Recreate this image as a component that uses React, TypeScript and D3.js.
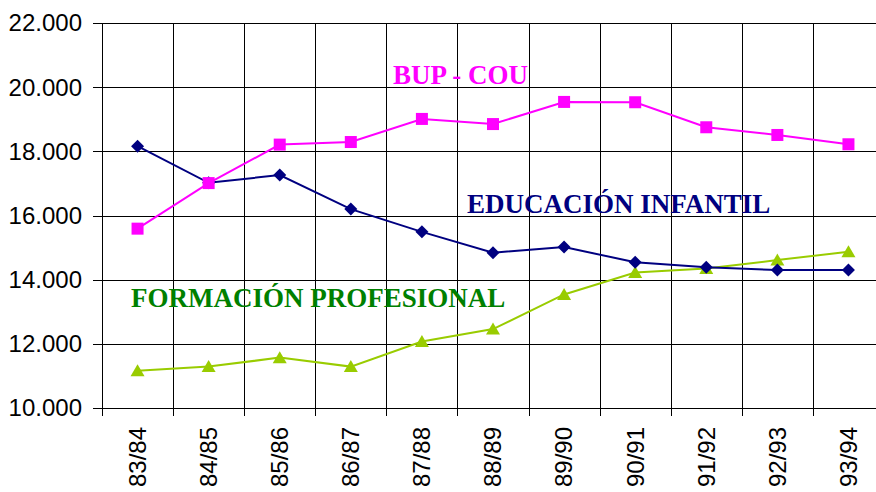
import * as React from 'react';
import * as d3 from 'd3';

const years = ['83/84', '84/85', '85/86', '86/87', '87/88', '88/89', '89/90', '90/91', '91/92', '92/93', '93/94'];
const infantil = [18160, 17020, 17260, 16200, 15490, 14840, 15020, 14540, 14390, 14300, 14300];
const bupCou = [15590, 17010, 18210, 18290, 19010, 18850, 19540, 19530, 18750, 18510, 18220];
const fp = [11160, 11290, 11570, 11290, 12070, 12460, 13540, 14220, 14350, 14610, 14870];
const yTicks = [10000, 12000, 14000, 16000, 18000, 20000, 22000];

const width = 876;
const height = 492;
const margin = { top: 23, right: -8, bottom: 84, left: 102 };

export default function App() {
  const x = d3.scaleBand<string>()
    .domain(years)
    .range([margin.left, width - margin.right]);
  const y = d3.scaleLinear()
    .domain([10000, 22000])
    .range([height - margin.bottom, margin.top]);

  const fmt = (v: number) => d3.format(',')(v).replace(/,/g, '.');
  const cx = (d: string) => (x(d) as number) + x.bandwidth() / 2;
  const line = (vals: number[]) => d3.line<number>()
    .x((_, i) => cx(years[i]))
    .y((d) => y(d))(vals) as string;

  const x0 = margin.left;
  const x1 = width - margin.right;
  const yb = y(10000);

  const diamond = 'M0,-6.5L6.5,0L0,6.5L-6.5,0Z';
  const triangle = 'M0,-6.5L7,5.5L-7,5.5Z';

  return (
    <svg width={width} height={height} style={{ position: 'absolute', left: 0, top: 0, background: '#fff' }}>
      <g stroke="#000" strokeWidth={1} shapeRendering="crispEdges">
        {yTicks.map((t) => (
          <line key={t} x1={x0 - 9} x2={x1} y1={Math.round(y(t)) + 0.5} y2={Math.round(y(t)) + 0.5} />
        ))}
        {years.map((d) => (
          <line key={d} x1={Math.round(x(d) as number) + 0.5} x2={Math.round(x(d) as number) + 0.5} y1={margin.top} y2={yb + 8} />
        ))}
        <line x1={x1} x2={x1} y1={margin.top} y2={yb + 8} />
      </g>
      <g fontFamily="Arial, 'Liberation Sans', sans-serif" fontSize={24} fill="#000">
        {yTicks.map((t) => (
          <text key={t} x={x0 - 20} y={y(t)} dy="0.35em" textAnchor="end">{fmt(t)}</text>
        ))}
        {years.map((d) => (
          <text key={d} transform={`translate(${cx(d)},${yb + 19}) rotate(-90)`} dy="0.35em" textAnchor="end">{d}</text>
        ))}
      </g>
      <path d={line(fp)} fill="none" stroke="#99CC00" strokeWidth={2} />
      <path d={line(infantil)} fill="none" stroke="#000080" strokeWidth={2} />
      <path d={line(bupCou)} fill="none" stroke="#FF00FF" strokeWidth={2} />
      {fp.map((v, i) => (
        <path key={i} d={triangle} transform={`translate(${cx(years[i])},${y(v)})`} fill="#99CC00" />
      ))}
      {infantil.map((v, i) => (
        <path key={i} d={diamond} transform={`translate(${cx(years[i])},${y(v)})`} fill="#000080" />
      ))}
      {bupCou.map((v, i) => (
        <rect key={i} x={cx(years[i]) - 6} y={y(v) - 6} width={12} height={12} fill="#FF00FF" />
      ))}
      <g fontFamily="'Times New Roman', 'Liberation Serif', serif" fontWeight="bold" fontSize={27}>
        <text x={393} y={84} fill="#FF00FF">BUP - COU</text>
        <text x={467} y={213} fill="#000080">EDUCACIÓN INFANTIL</text>
        <text x={131} y={307} fill="#008000">FORMACIÓN PROFESIONAL</text>
      </g>
    </svg>
  );
}
